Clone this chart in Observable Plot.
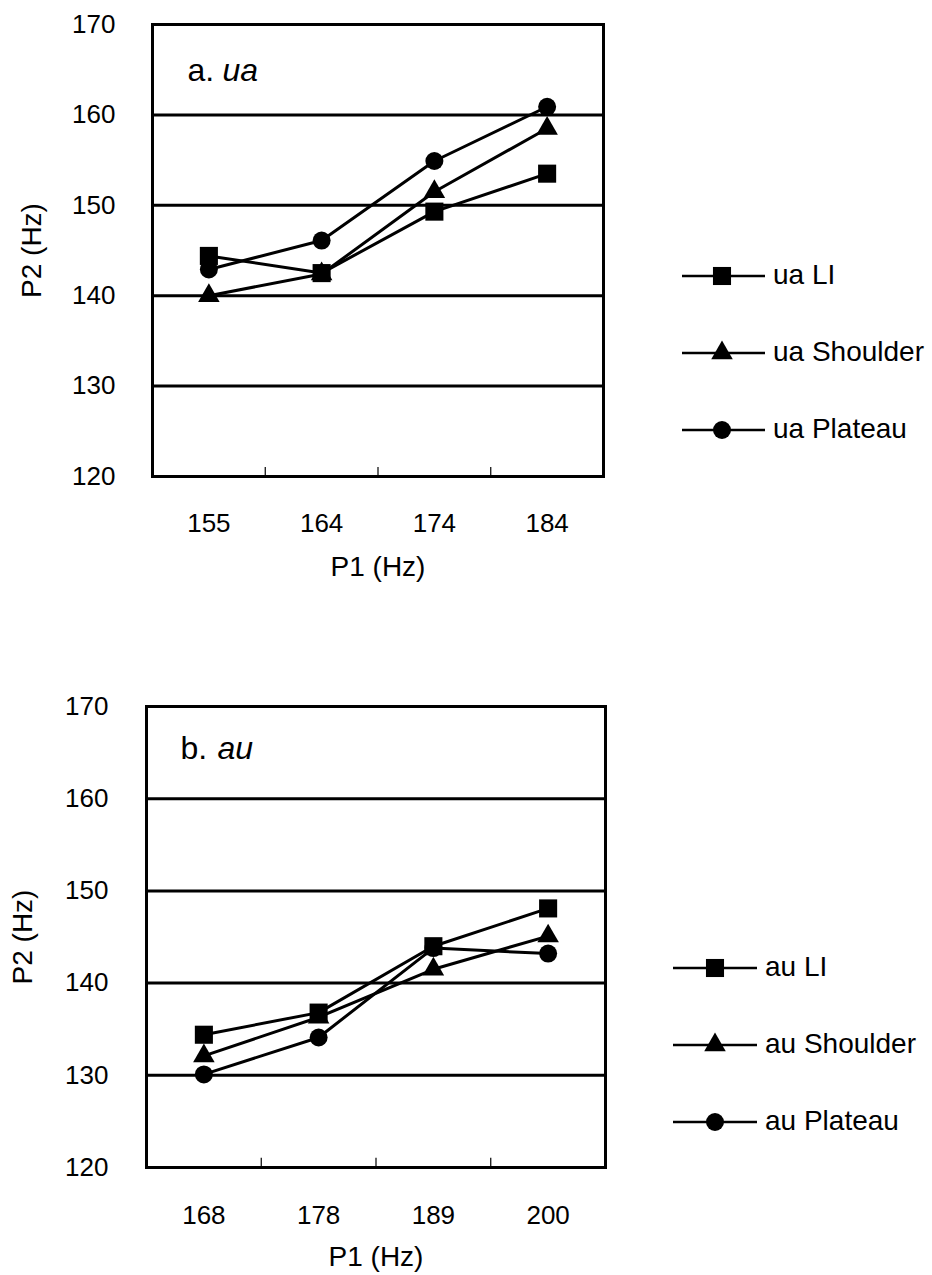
<!DOCTYPE html>
<html>
<head>
<meta charset="utf-8">
<script src="https://cdn.jsdelivr.net/npm/d3@7"></script>
<script src="https://cdn.jsdelivr.net/npm/@observablehq/plot@0.6"></script>
<style>
  html, body { margin: 0; padding: 0; background: #fff; }
  #page { position: relative; width: 932px; height: 1275px; font-family: "Liberation Sans", Arial, sans-serif; }
  .panel { position: absolute; left: 0; }
  .legend { position: absolute; font-size: 28px; color: #000; }
  .legend .row { position: absolute; left: 0; white-space: nowrap; height: 30px; }
  .legend svg { position: absolute; left: 0; top: 0; }
  .legend span { position: absolute; top: 0; line-height: 28px; }
</style>
</head>
<body>
<div id="page"></div>
<script>
// ---- data ----
const yTicks = [120, 130, 140, 150, 160, 170];
const gridValues = [130, 140, 150, 160];

const catsA = ["155", "164", "174", "184"];
const uaLI = [144.4, 142.5, 149.3, 153.5];
const uaShoulder = [140.0, 142.4, 151.5, 158.5];
const uaPlateau = [142.9, 146.1, 154.9, 160.9];
const namesA = ["ua LI", "ua Shoulder", "ua Plateau"];

const catsB = ["168", "178", "189", "200"];
const auLI = [134.4, 136.8, 144.0, 148.1];
const auShoulder = [132.1, 136.3, 141.5, 145.1];
const auPlateau = [130.1, 134.1, 143.8, 143.2];
const namesB = ["au LI", "au Shoulder", "au Plateau"];

const symbols = ["square", "triangle", "circle"];
const symbolR = {square: 10.2, triangle: 8, circle: 9};
const FONT = "Liberation Sans, Arial, sans-serif";

function makePanel(cfg) {
  const {cats, series, top, height, marginLeft, marginRight, marginBottom,
         letter, word, letterDx, wordDx, titleDy, tickDy, xLabelDy, yLabelDx, yTickDx} = cfg;
  const idx = cats.map((_, i) => i);
  const bounds = idx.slice(1).map(i => i - 0.5);
  const marks = [
    Plot.ruleY(gridValues, {stroke: "#000", strokeWidth: 3}),
    Plot.ruleX(bounds, {y1: 120, y2: 121, stroke: "#000", strokeWidth: 1.2}),
    Plot.frame({stroke: "#000", strokeWidth: 3})
  ];
  series.forEach((vals, s) => {
    const data = vals.map((v, i) => ({i, v}));
    marks.push(Plot.line(data, {x: "i", y: "v", stroke: "#000", strokeWidth: 3}));
  });
  series.forEach((vals, s) => {
    const data = vals.map((v, i) => ({i, v}));
    marks.push(Plot.dot(data, {x: "i", y: "v", symbol: () => symbols[s], r: symbolR[symbols[s]], fill: "#000", stroke: "none"}));
  });
  // y tick labels
  marks.push(Plot.text(yTicks, {x: -0.5, y: d => d, text: d => String(d), textAnchor: "end", lineAnchor: "middle", dx: yTickDx, fontSize: 26, fill: "#000"}));
  // x tick labels
  marks.push(Plot.text(idx, {x: d => d, text: d => cats[d], frameAnchor: "bottom", lineAnchor: "middle", dy: tickDy, fontSize: 26, fill: "#000"}));
  // axis titles
  marks.push(Plot.text(["P1 (Hz)"], {frameAnchor: "bottom", lineAnchor: "middle", textAnchor: "middle", dy: xLabelDy, fontSize: 28, fill: "#000"}));
  marks.push(Plot.text(["P2 (Hz)"], {frameAnchor: "left", lineAnchor: "middle", textAnchor: "middle", dx: yLabelDx, rotate: -90, fontSize: 28, fill: "#000"}));
  // panel title
  marks.push(Plot.text([letter], {frameAnchor: "top-left", lineAnchor: "middle", dx: letterDx, dy: titleDy, textAnchor: "start", fontSize: 32, fill: "#000"}));
  marks.push(Plot.text([word], {frameAnchor: "top-left", lineAnchor: "middle", dx: wordDx, dy: titleDy, textAnchor: "start", fontSize: 32, fontStyle: "italic", fill: "#000"}));

  const chart = Plot.plot({
    width: 620,
    height: height,
    marginLeft, marginRight, marginTop: 24, marginBottom,
    x: {type: "linear", domain: [-0.5, cats.length - 0.5], axis: null},
    y: {domain: [120, 170], axis: null},
    symbol: {type: "identity"},
    style: {fontFamily: FONT, fontSize: "26px", background: "transparent", overflow: "visible"},
    marks
  });
  const wrap = document.createElement("div");
  wrap.className = "panel";
  wrap.style.top = top + "px";
  wrap.appendChild(chart);
  document.getElementById("page").appendChild(wrap);
}

function symbolPath(sym, r) {
  const type = {square: d3.symbolSquare, triangle: d3.symbolTriangle, circle: d3.symbolCircle}[sym];
  return d3.symbol(type, Math.PI * r * r)();
}

function makeLegend(names, cfg) {
  const {left, top, rowGap, lineLen, symX, textX} = cfg;
  const box = document.createElement("div");
  box.className = "legend";
  box.style.left = left + "px";
  box.style.top = top + "px";
  names.forEach((name, s) => {
    const row = document.createElement("div");
    row.className = "row";
    row.style.top = (s * rowGap) + "px";
    const svg = d3.create("svg").attr("width", lineLen + 2).attr("height", 30);
    svg.append("line").attr("x1", 0).attr("x2", lineLen).attr("y1", 15).attr("y2", 15)
      .attr("stroke", "#000").attr("stroke-width", 2.5);
    svg.append("path").attr("d", symbolPath(symbols[s], symbolR[symbols[s]]))
      .attr("transform", `translate(${symX},15)`).attr("fill", "#000");
    row.appendChild(svg.node());
    const span = document.createElement("span");
    span.style.left = textX + "px";
    span.textContent = name;
    row.appendChild(span);
    box.appendChild(row);
  });
  document.getElementById("page").appendChild(box);
}

makePanel({
  cats: catsA, series: [uaLI, uaShoulder, uaPlateau],
  top: 0, height: 600, marginLeft: 152, marginRight: 17, marginBottom: 124,
  letter: "a.", word: "ua", letterDx: 35, wordDx: 70, titleDy: 46,
  tickDy: 47, xLabelDy: 91, yLabelDx: -120, yTickDx: -37
});
makePanel({
  cats: catsB, series: [auLI, auShoulder, auPlateau],
  top: 682, height: 593, marginLeft: 146, marginRight: 15, marginBottom: 108,
  letter: "b.", word: "au", letterDx: 34, wordDx: 71, titleDy: 42,
  tickDy: 48, xLabelDy: 90, yLabelDx: -123, yTickDx: -38
});
makeLegend(namesA, {left: 682, top: 261, rowGap: 77, lineLen: 83, symX: 40, textX: 91});
makeLegend(namesB, {left: 673, top: 953, rowGap: 77, lineLen: 84, symX: 42, textX: 92});
</script>
</body>
</html>
